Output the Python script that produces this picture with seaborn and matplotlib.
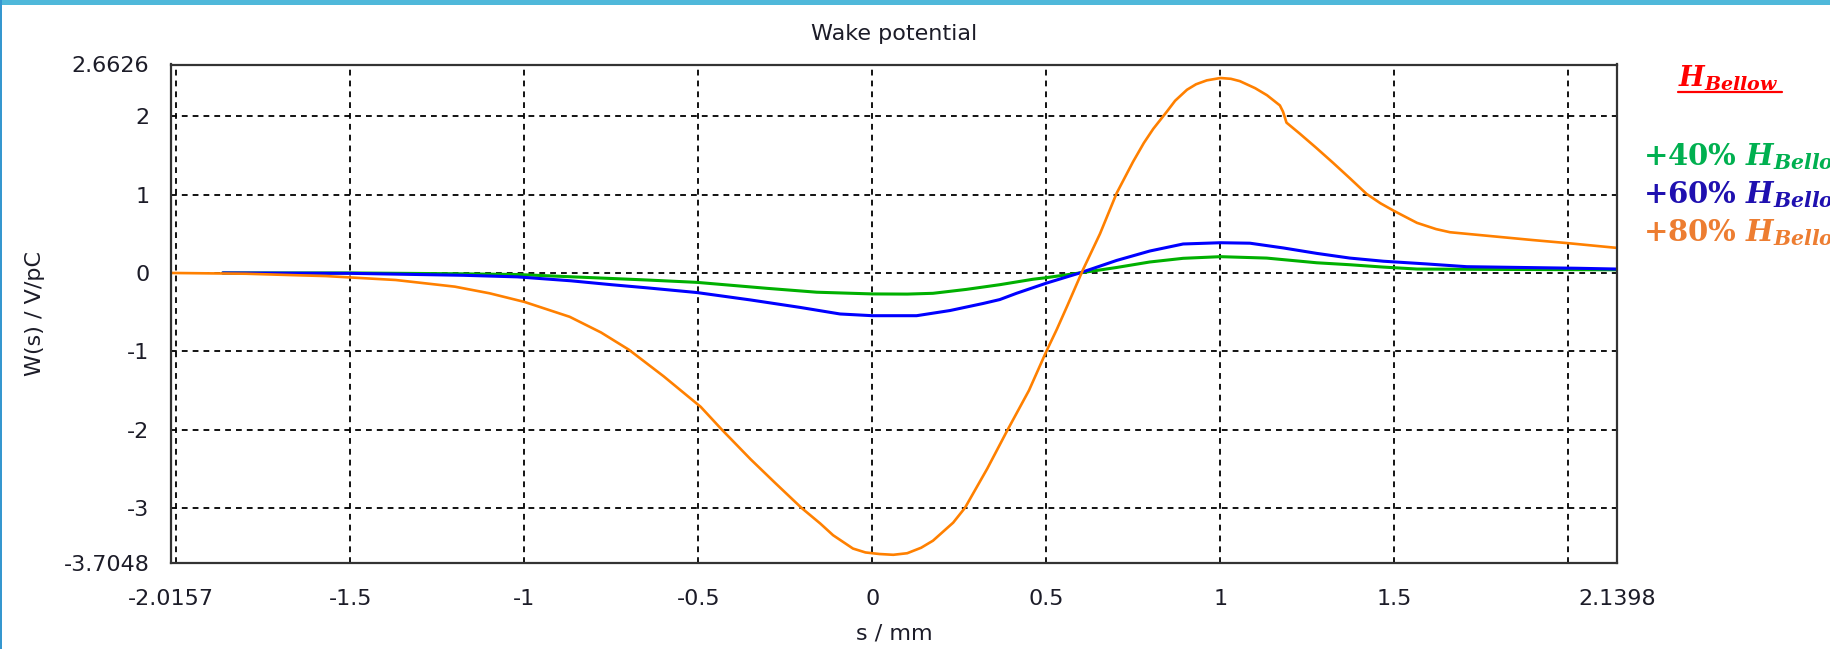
import matplotlib
matplotlib.use("Agg")
import matplotlib.pyplot as plt
import seaborn as sns
from matplotlib.patches import Rectangle
from matplotlib.lines import Line2D

# Wake potential W(s) in V/pC versus s in mm for three bellow heights
s_40 = [-1.867, -1.5, -1.2, -1.02, -0.86, -0.648, -0.505, -0.304, -0.16, 0.0, 0.1,
        0.174, 0.27, 0.366, 0.462, 0.5, 0.596, 0.702, 0.797, 0.893, 1.0, 1.133,
        1.277, 1.372, 1.468, 1.565, 1.8, 2.1398]
w_40 = [0.0, 0.0, -0.01, -0.02, -0.05, -0.09, -0.12, -0.196, -0.246, -0.268, -0.27,
        -0.26, -0.21, -0.15, -0.08, -0.06, 0.0, 0.07, 0.14, 0.187, 0.208, 0.19,
        0.13, 0.105, 0.075, 0.05, 0.045, 0.04]

s_60 = [-1.867, -1.5, -1.175, -1.02, -0.867, -0.75, -0.648, -0.505, -0.35, -0.208,
        -0.093, 0.0, 0.127, 0.223, 0.318, 0.366, 0.414, 0.5, 0.596, 0.702, 0.797,
        0.893, 1.0, 1.085, 1.18, 1.277, 1.372, 1.468, 1.593, 1.708, 2.024, 2.1398]
w_60 = [0.0, -0.005, -0.03, -0.05, -0.10, -0.15, -0.19, -0.25, -0.345, -0.44,
        -0.524, -0.546, -0.546, -0.48, -0.39, -0.34, -0.26, -0.13, 0.0, 0.16, 0.28,
        0.37, 0.386, 0.38, 0.32, 0.25, 0.19, 0.15, 0.115, 0.08, 0.06, 0.05]

s_80 = [-2.0157, -1.8, -1.65, -1.57, -1.45, -1.37, -1.2, -1.1, -1.0, -0.87, -0.78,
        -0.70, -0.6, -0.4935, -0.433, -0.35, -0.28, -0.204, -0.15, -0.113, -0.056,
        -0.02, 0.02, 0.06, 0.1, 0.14, 0.174, 0.232, 0.266, 0.33, 0.389, 0.45, 0.5,
        0.53, 0.56, 0.605, 0.654, 0.702, 0.749, 0.78, 0.807, 0.846, 0.87, 0.904,
        0.93, 0.961, 1.0, 1.03, 1.056, 1.1, 1.134, 1.171, 1.18, 1.19, 1.228, 1.275,
        1.323, 1.372, 1.42, 1.46, 1.50, 1.565, 1.62, 1.66, 1.755, 1.898, 2.0, 2.1398]
w_80 = [0.0, -0.01, -0.03, -0.04, -0.07, -0.09, -0.175, -0.26, -0.37, -0.56, -0.76,
        -0.98, -1.32, -1.71, -2.0, -2.38, -2.68, -3.0, -3.2, -3.35, -3.52,
        -3.57, -3.59, -3.6, -3.58, -3.51, -3.42, -3.19, -3.0, -2.5, -2.0, -1.5, -1.0,
        -0.72, -0.42, 0.04, 0.50, 1.02, 1.42, 1.66, 1.84, 2.06, 2.2, 2.34,
        2.41, 2.46, 2.49, 2.48, 2.45, 2.36, 2.27, 2.14, 2.06, 1.92, 1.78, 1.60,
        1.41, 1.21, 1.01, 0.89, 0.79, 0.64, 0.56, 0.52, 0.48, 0.42, 0.38, 0.32]

x_limits = (-2.0157, 2.1398)
y_limits = (-3.7048, 2.6626)
x_grid_ticks = [-2, -1.5, -1, -0.5, 0, 0.5, 1, 1.5, 2]
x_grid_labels = ["", "-1.5", "-1", "-0.5", "0", "0.5", "1", "1.5", ""]
y_grid_ticks = [-3, -2, -1, 0, 1, 2]
y_grid_labels = ["-3", "-2", "-1", "0", "1", "2"]

legend_title = r"$H_{Bellow}$"
legend_entries = [r"+40% $H_{Bellow}$", r"+60% $H_{Bellow}$", r"+80% $H_{Bellow}$"]

sns.set_style("white")
plt.rcParams["font.family"] = ["DejaVu Sans"]
plt.rcParams["mathtext.fontset"] = "custom"
plt.rcParams["mathtext.it"] = "DejaVu Serif:italic:bold"
plt.rcParams["mathtext.rm"] = "DejaVu Serif:bold"
plt.rcParams["mathtext.bf"] = "DejaVu Serif:italic:bold"

W, H = 1831, 649
fig = plt.figure(figsize=(W / 100, H / 100), dpi=100)
fig.patch.set_facecolor("white")
ax = fig.add_axes([171 / W, 1 - 563 / H, (1617 - 171) / W, (563 - 64.5) / H])

sns.lineplot(x=s_40, y=w_40, ax=ax, color="#00b000", linewidth=2.2, estimator=None)
sns.lineplot(x=s_60, y=w_60, ax=ax, color="#0000ff", linewidth=2.2, estimator=None)
sns.lineplot(x=s_80, y=w_80, ax=ax, color="#ff8000", linewidth=1.9, estimator=None)

ax.set_xlim(*x_limits)
ax.set_ylim(*y_limits)

ax.set_xticks(x_grid_ticks)
ax.set_xticklabels(x_grid_labels)
ax.set_xticks(list(x_limits), minor=True)
ax.set_xticklabels([f"{v:.4f}" for v in x_limits], minor=True)
ax.set_yticks(y_grid_ticks)
ax.set_yticklabels(y_grid_labels)
ax.set_yticks(list(y_limits), minor=True)
ax.set_yticklabels([f"{v:.4f}" for v in y_limits], minor=True)

for which in ("major", "minor"):
    ax.tick_params(axis="both", which=which, direction="inout", length=11, width=1.3,
                   color="#222222", labelsize=16, labelcolor="#1c1c28")
    ax.tick_params(axis="x", which=which, pad=13)
    ax.tick_params(axis="y", which=which, pad=10)

ax.grid(True, which="major", color="black", linestyle=(0, (3.2, 2.8)), linewidth=1.3)
ax.grid(False, which="minor")

for sp in ax.spines.values():
    sp.set_visible(True)
    sp.set_color("#333333")
    sp.set_linewidth(1.6)

ax.set_title("Wake potential", fontsize=16, color="#1c1c28", pad=17.5)
ax.set_xlabel("s / mm", fontsize=16, color="#1c1c28")
ax.set_ylabel("W(s) / V/pC", fontsize=16, color="#1c1c28")
ax.xaxis.set_label_coords(0.5, -0.122)
ax.yaxis.set_label_coords(-0.087, 0.5)

# Legend written beside the plot; like the slide it sits on, it runs past the right edge
fig.text(1678 / W, 1 - 86.7 / H, legend_title, color="#ff0000", fontsize=19.5,
         family="DejaVu Serif", weight="bold", ha="left", va="baseline")
fig.add_artist(Line2D([1678 / W, 1782 / W], [1 - 91.7 / H, 1 - 91.7 / H],
                      transform=fig.transFigure, color="#ff0000", linewidth=1.6))
legend_colors = ["#00b050", "#1f10b0", "#ed7d31"]
for i, (txt, col) in enumerate(zip(legend_entries, legend_colors)):
    fig.text(1643 / W, 1 - (165 + 38.3 * i) / H, txt, color=col, fontsize=21,
             family="DejaVu Serif", weight="bold", ha="left", va="baseline")

# Slide frame accents
fig.add_artist(Rectangle((0, 1 - 5 / H), 1, 5 / H, transform=fig.transFigure,
                         color="#4fb8da", linewidth=0))
fig.add_artist(Rectangle((0, 0), 2.5 / W, 1, transform=fig.transFigure,
                         color="#3597cf", linewidth=0))

fig.savefig("out.png", dpi=100)
